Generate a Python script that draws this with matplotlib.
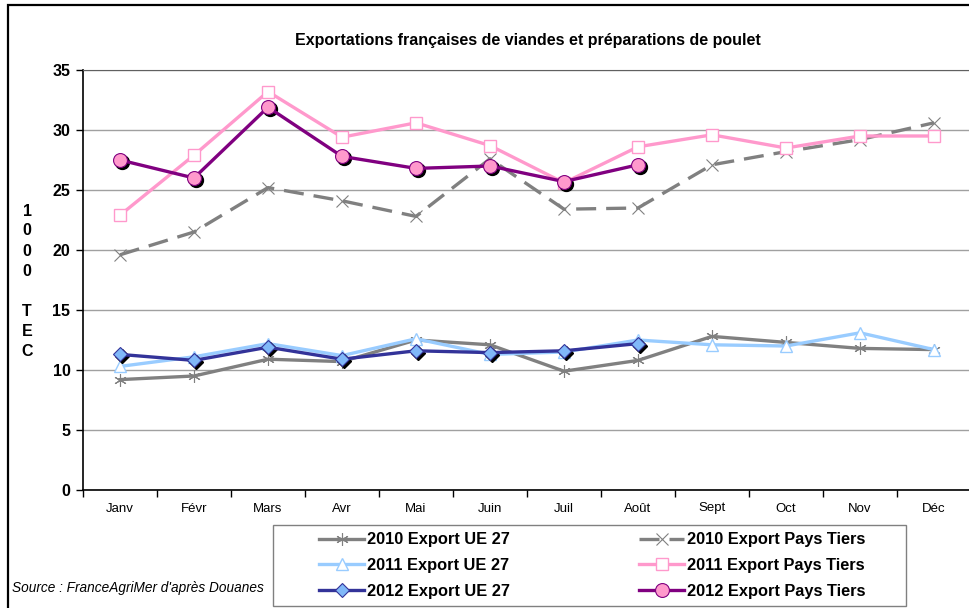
import matplotlib
matplotlib.use("Agg")
import matplotlib.pyplot as plt
from matplotlib import font_manager, transforms
from matplotlib.patches import Rectangle

# ---------------- data ----------------
months = ["Janv", "Févr", "Mars", "Avr", "Mai", "Juin", "Juil", "Août", "Sept", "Oct", "Nov", "Déc"]

ue_2010 = [9.2, 9.5, 10.9, 10.7, 12.5, 12.1, 9.9, 10.8, 12.8, 12.3, 11.8, 11.7]
pt_2010 = [19.6, 21.5, 25.2, 24.1, 22.8, 27.6, 23.4, 23.5, 27.1, 28.2, 29.2, 30.6]
ue_2011 = [10.3, 11.1, 12.2, 11.2, 12.6, 11.3, 11.5, 12.5, 12.1, 12.0, 13.1, 11.7]
pt_2011 = [22.9, 27.9, 33.2, 29.4, 30.6, 28.7, 25.6, 28.6, 29.6, 28.5, 29.5, 29.5]
ue_2012 = [11.3, 10.8, 11.9, 10.9, 11.6, 11.45, 11.6, 12.2]
pt_2012 = [27.5, 26.0, 31.9, 27.8, 26.8, 27.0, 25.7, 27.1]

labels = ["2010 Export UE 27", "2011 Export UE 27", "2012 Export UE 27",
          "2010 Export Pays Tiers", "2011 Export Pays Tiers", "2012 Export Pays Tiers"]
title = "Exportations françaises de viandes et préparations de poulet"
source = "Source : FranceAgriMer d'après Douanes"
ylab_chars = ["1", "0", "0", "0", "", "T", "E", "C"]
yticks = [0, 5, 10, 15, 20, 25, 30, 35]

# ---------------- fonts ----------------
avail = {f.name for f in font_manager.fontManager.ttflist}
main_font = "Liberation Sans" if "Liberation Sans" in avail else "DejaVu Sans"
plt.rcParams["font.family"] = [main_font, "DejaVu Sans"]

W, H = 970, 608
fig = plt.figure(figsize=(W / 100, H / 100), dpi=100)

def fx(px):
    return px / W

def fy(py):
    return 1 - py / H

# outer chart border
fig.patches.append(Rectangle((fx(8), fy(H + 10)), 1.2, fy(5) - fy(H + 10),
                             transform=fig.transFigure, fill=False,
                             edgecolor="black", linewidth=1.6, zorder=0))

ax = fig.add_axes([fx(83), fy(490), (971 - 83) / W, (490 - 70) / H])
x = list(range(len(months)))

GREY = "#808080"
LBLUE = "#99CCFF"
PINK = "#FF99CC"
DBLUE = "#333399"
PURPLE = "#800080"

shadow = transforms.offset_copy(ax.transData, fig=fig, x=2, y=-2, units="dots")

# 2010 lines
ax.plot(x, ue_2010, color=GREY, lw=2.4, marker=(6, 2, 0), ms=9, mew=0.8,
        mec=GREY, mfc=GREY, zorder=3, label=labels[0])
ax.plot(x, pt_2010, color=GREY, lw=2.4, dashes=(6, 3), marker="x", ms=8,
        mew=0.8, mec=GREY, zorder=3, label=labels[3])
# 2011 lines
ax.plot(x, ue_2011, color=LBLUE, lw=2.4, marker="^", ms=8, mfc="white",
        mec=LBLUE, mew=1.0, zorder=4, label=labels[1])
ax.plot(x, pt_2011, color=PINK, lw=2.4, marker="s", ms=8, mfc="white",
        mec=PINK, mew=1.0, zorder=4, label=labels[4])
# 2012 lines (with black marker shadows)
x12 = x[:len(ue_2012)]
ax.plot(x12, ue_2012, ls="none", marker="D", ms=7.5, mfc="black", mec="black",
        transform=shadow, zorder=5)
ax.plot(x12, ue_2012, color=DBLUE, lw=2.4, marker="D", ms=7.5, mfc="#80B8F8",
        mec=DBLUE, mew=0.8, zorder=6, label=labels[2])
ax.plot(x12, pt_2012, ls="none", marker="o", ms=10, mfc="black", mec="black",
        transform=shadow, zorder=5)
ax.plot(x12, pt_2012, color=PURPLE, lw=2.4, marker="o", ms=10, mfc=PINK,
        mec=PURPLE, mew=0.8, zorder=6, label=labels[5])

# axes styling
ax.set_xlim(-0.5, len(months) - 0.5)
ax.set_ylim(0, 35)
ax.set_yticks(yticks)
ax.set_yticklabels([str(v) for v in yticks], fontsize=11.5, fontweight="bold")
ax.yaxis.grid(True, color="#A0A0A0", lw=1)
ax.set_axisbelow(True)
ax.set_xticks([i - 0.5 for i in range(len(months) + 1)])
ax.set_xticklabels([])
ax.set_xticks(x, minor=True)
ax.set_xticklabels(months, minor=True, fontsize=9.5)
ax.tick_params(axis="x", which="major", direction="out", length=5, width=1, color="black")
ax.tick_params(axis="x", which="minor", length=0, pad=9)
ax.tick_params(axis="y", direction="out", length=5, width=1, color="black", pad=4)
ax.spines["right"].set_visible(False)
ax.spines["top"].set_color("#606060")
ax.spines["left"].set_linewidth(1.2)
ax.spines["bottom"].set_linewidth(1.2)

# title
fig.text(fx(528), fy(40), title, ha="center", va="center", fontsize=11.5, fontweight="bold")

# stacked y label
for i, ch in enumerate(ylab_chars):
    if ch:
        fig.text(fx(27), fy(211 + 20 * i), ch, ha="center", va="center",
                 fontsize=11.5, fontweight="bold")

# source
fig.text(fx(12), fy(588), source, ha="left", va="center", fontsize=9.8, style="italic")

# legend
fig.patches.append(Rectangle((fx(273), fy(606)), fx(906) - fx(273), fy(525) - fy(606),
                             transform=fig.transFigure, fill=False,
                             edgecolor="#808080", linewidth=1, zorder=1))
handles_by_label = {l.get_label(): l for l in ax.get_lines() if not l.get_label().startswith("_")}
handles = [handles_by_label[l] for l in labels]
leg = fig.legend(handles, labels, ncol=2, loc="center",
                 bbox_to_anchor=(fx(592), fy(565.5)), frameon=False,
                 prop={"weight": "bold", "size": 11.8}, handlelength=2.75,
                 handletextpad=0.15, columnspacing=7.9, labelspacing=0.65,
                 borderpad=0.2)

fig.savefig("out.png", dpi=100)
